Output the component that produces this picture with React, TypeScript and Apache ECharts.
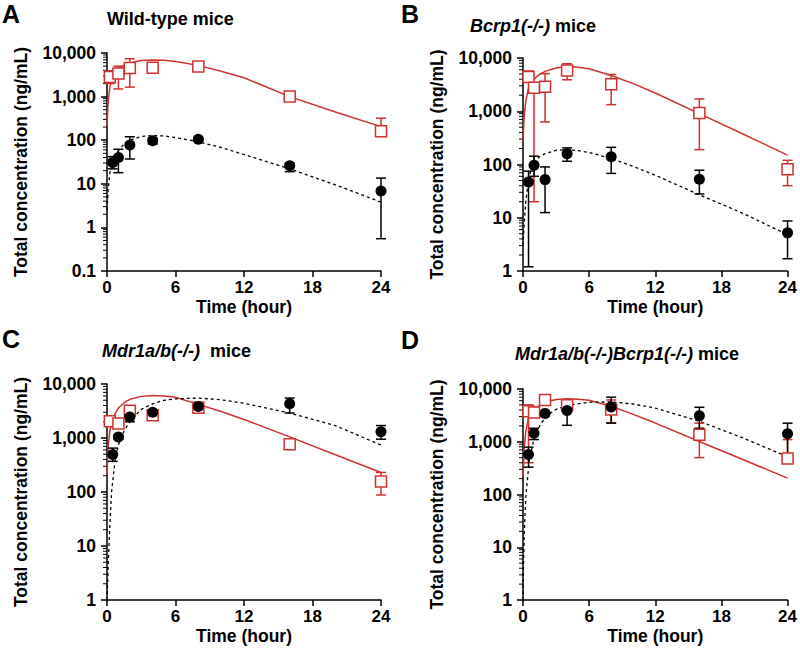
import React, { useEffect, useRef } from "react";
import * as echarts from "echarts";

const FONT = '"Liberation Sans", Arial, Helvetica, sans-serif';
const RED = "#d0312d";
const BLACK = "#000000";

// ---------- Panel A : Wild-type ----------
const redTimesA = [0.25, 1, 2, 4, 8, 16, 24];
const redMeanA = [2800, 3400, 4500, 4600, 4900, 1000, 160];
const redLowA = [2000, 1500, 1650, 3600, 4300, 900, 130];
const redHighA = [3900, 5000, 7400, 5600, 5600, 1100, 320];
const blackTimesA = [0.5, 1, 2, 4, 8, 16, 24];
const blackMeanA = [31, 40, 78, 97, 105, 26, 6.8];
const blackLowA = [22, 18, 37, 82, 95, 19, 0.55];
const blackHighA = [42, 62, 120, 112, 115, 30, 13.5];
const redFitTimesA = [0, 0.1, 0.25, 0.5, 1, 1.5, 2, 3, 4, 5, 6, 8, 10, 12, 16, 20, 24];
const redFitA = [220, 760, 1650, 2800, 4300, 5200, 5900, 6700, 6900, 6800, 6400, 5200, 3800, 2700, 1000, 445, 205];
const blackFitTimesA = [0, 0.1, 0.25, 0.5, 1, 1.5, 2, 3, 4, 5, 6, 8, 10, 12, 16, 20, 24];
const blackFitA = [2.5, 7, 18, 34, 58, 82, 100, 122, 128, 125, 115, 92, 68, 47, 22, 9.5, 3.8];

// ---------- Panel B : Bcrp1(-/-) ----------
const redTimesB = [0.5, 1, 2, 4, 8, 16, 24];
const redMeanB = [4400, 2750, 2900, 5800, 3200, 930, 81];
const redLowB = [3500, 20, 630, 3900, 1330, 190, 40];
const redHighB = [5700, 3400, 5100, 7800, 4900, 1700, 120];
const blackTimesB = [0.5, 1, 2, 4, 8, 16, 24];
const blackMeanB = [47, 97, 52, 160, 140, 53, 5.2];
const blackLowB = [1.2, 60, 12.5, 115, 68, 28, 1.7];
const blackHighB = [75, 143, 90, 205, 210, 78, 8.7];
const redFitTimesB = [0, 0.1, 0.25, 0.5, 1, 1.5, 2, 3, 4, 5, 6, 8, 10, 12, 16, 20, 24];
const redFitB = [280, 750, 1550, 2700, 4000, 4900, 5600, 6500, 6900, 6700, 6300, 4700, 3300, 2200, 900, 370, 150];
const blackFitTimesB = [0, 0.1, 0.25, 0.5, 0.75, 1, 1.5, 2, 3, 4, 5, 6, 8, 10, 12, 16, 20, 24];
const blackFitB = [3, 7, 20, 50, 85, 110, 140, 160, 185, 190, 182, 168, 130, 92, 63, 27, 12, 4.8];

// ---------- Panel C : Mdr1a/b(-/-) ----------
const redTimesC = [0.25, 1, 2, 4, 8, 16, 24];
const redMeanC = [2050, 1850, 3200, 2650, 3650, 770, 156];
const redLowC = [1700, 1600, 2600, 2300, 3200, 700, 88];
const redHighC = [2400, 2100, 3800, 3000, 4200, 850, 230];
const blackTimesC = [0.5, 1, 2, 4, 8, 16, 24];
const blackMeanC = [495, 1040, 2450, 3000, 3850, 4300, 1310];
const blackLowC = [370, 950, 2000, 2700, 3300, 2900, 950];
const blackHighC = [650, 1150, 2900, 3300, 4300, 5500, 1700];
const redFitTimesC = [0, 0.1, 0.25, 0.5, 1, 1.5, 2, 3, 4, 5, 6, 8, 10, 12, 16, 20, 24];
const redFitC = [210, 700, 1340, 2300, 3600, 4500, 5200, 5900, 6100, 6000, 5700, 4200, 3100, 2200, 1050, 490, 230];
const blackFitTimesC = [0, 0.1, 0.2, 0.3, 0.4, 0.7, 1, 1.5, 2, 3, 4, 5, 6, 8, 10, 12, 16, 20, 24];
const blackFitC = [1, 4, 14, 40, 100, 370, 750, 1350, 2000, 3400, 4300, 5000, 5300, 5500, 5100, 4400, 2900, 1700, 740];

// ---------- Panel D : Mdr1a/b(-/-)Bcrp1(-/-) ----------
const redTimesD = [0.5, 1, 2, 4, 8, 16, 24];
const redMeanD = [3800, 3600, 6200, 4900, 4100, 1360, 480];
const redLowD = [400, 3300, 5800, 3800, 2300, 500, 420];
const redHighD = [5000, 4000, 6600, 5800, 6200, 2250, 1100];
const blackTimesD = [0.5, 1, 2, 4, 8, 16, 24];
const blackMeanD = [575, 1450, 3450, 3900, 4550, 3100, 1420];
const blackLowD = [330, 1100, 3100, 2050, 2250, 1800, 500];
const blackHighD = [790, 1800, 3800, 5900, 7000, 4500, 2250];
const redFitTimesD = [0, 0.1, 0.25, 0.5, 1, 1.5, 2, 3, 4, 5, 6, 8, 10, 12, 16, 20, 24];
const redFitD = [220, 700, 1550, 2800, 4000, 4900, 5600, 6300, 6500, 6400, 6100, 4700, 3300, 2260, 1010, 455, 204];
const blackFitTimesD = [0, 0.05, 0.12, 0.27, 0.57, 1, 1.6, 2.4, 3, 4, 6, 8, 10, 12, 16, 20, 24];
const blackFitD = [1, 5, 21, 100, 440, 1140, 2200, 3400, 4100, 4900, 5600, 5700, 5200, 4350, 2450, 1170, 520];

// axis settings
const xTicks = [0, 6, 12, 18, 24];
const yMins = [0.1, 1, 1, 1];
const yMax = 10000;

const panelLetters = ["A", "B", "C", "D"];
const panelTitles = [
  "{n|Wild-type mice}",
  "{i|Bcrp1(-/-)}{n| mice}",
  "{i|Mdr1a/b(-/-)}{n|  mice}",
  "{i|Mdr1a/b(-/-)Bcrp1(-/-)}{n| mice}",
];

type Panel = {
  redT: number[]; redM: number[]; redL: number[]; redH: number[];
  blkT: number[]; blkM: number[]; blkL: number[]; blkH: number[];
  rfT: number[]; rf: number[]; bfT: number[]; bf: number[];
};

const panels: Panel[] = [
  { redT: redTimesA, redM: redMeanA, redL: redLowA, redH: redHighA, blkT: blackTimesA, blkM: blackMeanA, blkL: blackLowA, blkH: blackHighA, rfT: redFitTimesA, rf: redFitA, bfT: blackFitTimesA, bf: blackFitA },
  { redT: redTimesB, redM: redMeanB, redL: redLowB, redH: redHighB, blkT: blackTimesB, blkM: blackMeanB, blkL: blackLowB, blkH: blackHighB, rfT: redFitTimesB, rf: redFitB, bfT: blackFitTimesB, bf: blackFitB },
  { redT: redTimesC, redM: redMeanC, redL: redLowC, redH: redHighC, blkT: blackTimesC, blkM: blackMeanC, blkL: blackLowC, blkH: blackHighC, rfT: redFitTimesC, rf: redFitC, bfT: blackFitTimesC, bf: blackFitC },
  { redT: redTimesD, redM: redMeanD, redL: redLowD, redH: redHighD, blkT: blackTimesD, blkM: blackMeanD, blkL: blackLowD, blkH: blackHighD, rfT: redFitTimesD, rf: redFitD, bfT: blackFitTimesD, bf: blackFitD },
];

const grids = [
  { left: 107, top: 53, width: 274, height: 218 },
  { left: 523, top: 58, width: 266, height: 213 },
  { left: 107, top: 384, width: 274, height: 216 },
  { left: 523, top: 389, width: 265, height: 211 },
];

const zip = (a: number[], b: number[]) => a.map((v, i) => [v, b[i]]);
const zip3 = (a: number[], b: number[], c: number[]) => a.map((v, i) => [v, b[i], c[i]]);

function minorTickValues(min: number, max: number) {
  const out: number[][] = [];
  for (let d = min; d < max; d *= 10) {
    for (let m = 2; m <= 9; m++) out.push([0, +(d * m).toPrecision(3)]);
  }
  return out;
}

function errorBarSeries(idx: number, data: number[][], color: string) {
  return {
    type: "custom",
    xAxisIndex: idx,
    yAxisIndex: idx,
    z: 3,
    silent: true,
    encode: { x: 0, y: [1, 2] },
    data,
    renderItem: (params: any, api: any) => {
      const t = api.value(0);
      const top = api.coord([t, api.value(2)]);
      const bot = api.coord([t, api.value(1)]);
      const w = 5;
      const style = { stroke: color, lineWidth: 1.5 };
      return {
        type: "group",
        children: [
          { type: "line", shape: { x1: top[0], y1: top[1], x2: bot[0], y2: bot[1] }, style },
          { type: "line", shape: { x1: top[0] - w, y1: top[1], x2: top[0] + w, y2: top[1] }, style },
          { type: "line", shape: { x1: bot[0] - w, y1: bot[1], x2: bot[0] + w, y2: bot[1] }, style },
        ],
      };
    },
  };
}

function buildOption() {
  const series: any[] = [];
  panels.forEach((p, i) => {
    series.push({
      type: "custom",
      xAxisIndex: i,
      yAxisIndex: i,
      silent: true,
      z: 1,
      encode: { x: 0, y: 1 },
      data: minorTickValues(yMins[i], yMax),
      renderItem: (params: any, api: any) => {
        const pt = api.coord([0, api.value(1)]);
        return {
          type: "line",
          shape: { x1: pt[0] - 4, y1: pt[1], x2: pt[0], y2: pt[1] },
          style: { stroke: BLACK, lineWidth: 1 },
        };
      },
    });
    series.push({
      type: "line",
      xAxisIndex: i,
      yAxisIndex: i,
      data: zip(p.rfT, p.rf),
      showSymbol: false,
      smooth: false,
      z: 2,
      lineStyle: { color: RED, width: 1.5 },
      silent: true,
    });
    series.push({
      type: "line",
      xAxisIndex: i,
      yAxisIndex: i,
      data: zip(p.bfT, p.bf),
      showSymbol: false,
      smooth: false,
      z: 2,
      lineStyle: { color: BLACK, width: 1.3, type: [3, 3] },
      silent: true,
    });
    series.push(errorBarSeries(i, zip3(p.redT, p.redL, p.redH), RED));
    series.push(errorBarSeries(i, zip3(p.blkT, p.blkL, p.blkH), BLACK));
    series.push({
      type: "scatter",
      xAxisIndex: i,
      yAxisIndex: i,
      data: zip(p.redT, p.redM),
      symbol: "rect",
      symbolSize: 11,
      z: 4,
      itemStyle: { color: "#ffffff", borderColor: RED, borderWidth: 1.5, opacity: 1 },
    });
    series.push({
      type: "scatter",
      xAxisIndex: i,
      yAxisIndex: i,
      data: zip(p.blkT, p.blkM),
      symbol: "circle",
      symbolSize: 11,
      z: 5,
      itemStyle: { color: BLACK, opacity: 1 },
    });
  });

  const xAxis = grids.map((g, i) => ({
    type: "value",
    gridIndex: i,
    min: xTicks[0],
    max: xTicks[xTicks.length - 1],
    interval: 6,
    splitLine: { show: false },
    axisLine: { lineStyle: { color: BLACK, width: 1.5 } },
    axisTick: { length: 6, lineStyle: { color: BLACK, width: 1.5 } },
    axisLabel: { color: BLACK, fontFamily: FONT, fontWeight: "bold", fontSize: 17, margin: 8 },
    name: "Time (hour)",
    nameLocation: "middle",
    nameGap: 27,
    nameTextStyle: { color: BLACK, fontFamily: FONT, fontWeight: "bold", fontSize: 17.5 },
  }));

  const yAxis = grids.map((g, i) => ({
    type: "log",
    logBase: 10,
    gridIndex: i,
    min: yMins[i],
    max: yMax,
    splitLine: { show: false },
    axisLine: { show: true, lineStyle: { color: BLACK, width: 1.5 } },
    axisTick: { show: true, length: 6, lineStyle: { color: BLACK, width: 1.5 } },
    axisLabel: {
      color: BLACK,
      fontFamily: FONT,
      fontWeight: "bold",
      fontSize: 17.5,
      margin: 11,
      formatter: (v: number) => (v >= 1 ? Math.round(v).toLocaleString("en-US") : String(+v.toPrecision(1))),
    },
    name: "Total concentration (ng/mL)",
    nameLocation: "middle",
    nameGap: 77,
    nameTextStyle: { color: BLACK, fontFamily: FONT, fontWeight: "bold", fontSize: 17.5 },
  }));

  const letterPos = [
    [2, 14],
    [401, 14],
    [2, 339],
    [401, 340],
  ];
  const titleRich = {
    n: { fontFamily: FONT, fontWeight: "bold", fontSize: 18, color: BLACK },
    i: { fontFamily: FONT, fontWeight: "bold", fontStyle: "italic", fontSize: 18, color: BLACK },
  };
  const titlePos = [
    [107, 19],
    [470, 26],
    [102, 351],
    [515, 354],
  ];

  const graphic: any[] = [];
  panelLetters.forEach((l, i) => {
    graphic.push({
      type: "text",
      x: letterPos[i][0],
      y: letterPos[i][1],
      style: {
        text: l,
        fontFamily: FONT,
        fontWeight: "bold",
        fontSize: 25,
        fill: BLACK,
        align: "left",
        verticalAlign: "middle",
      },
    });
  });
  panelTitles.forEach((t, i) => {
    graphic.push({
      type: "text",
      x: titlePos[i][0],
      y: titlePos[i][1],
      style: {
        text: t,
        rich: titleRich,
        fontFamily: FONT,
        fontWeight: "bold",
        fontSize: 18,
        fill: BLACK,
        align: "left",
        verticalAlign: "middle",
      },
    });
  });

  return {
    animation: false,
    backgroundColor: "#ffffff",
    grid: grids.map((g) => ({ ...g, containLabel: false })),
    xAxis,
    yAxis,
    series,
    graphic,
  };
}

export default function App() {
  const ref = useRef<HTMLDivElement>(null);
  useEffect(() => {
    if (!ref.current) return;
    const chart = echarts.init(ref.current, null, { renderer: "svg" });
    chart.setOption(buildOption() as any);
    return () => chart.dispose();
  }, []);
  return (
    <div
      ref={ref}
      style={{ position: "absolute", left: 0, top: 0, width: 800, height: 652, background: "#fff" }}
    />
  );
}
